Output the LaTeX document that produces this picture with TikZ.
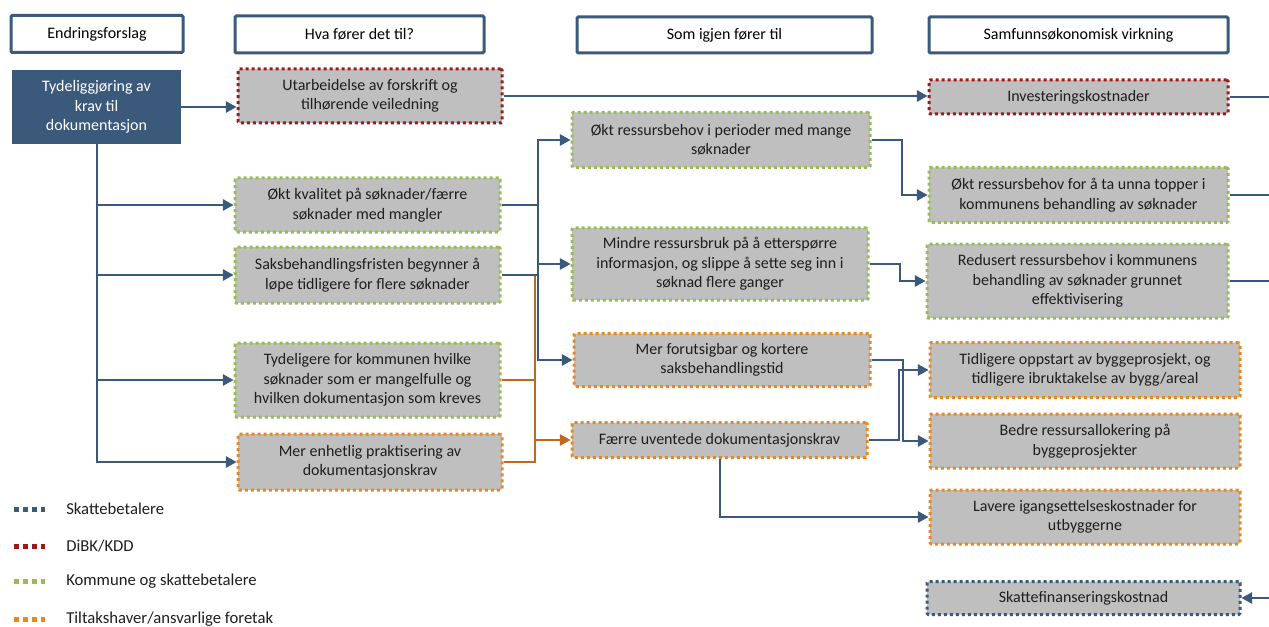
\documentclass[tikz,border=0pt]{standalone}
\usepackage{fontspec}
\setmainfont{Carlito}
\usetikzlibrary{arrows.meta}
\definecolor{navy}{HTML}{3B5A7B}
\definecolor{dibk}{HTML}{9E1A1A}
\definecolor{kommune}{HTML}{9BBB59}
\definecolor{tiltak}{HTML}{E68A1E}
\definecolor{brownlink}{HTML}{BF6A1A}
\definecolor{boxgrey}{HTML}{BFBFBF}
\definecolor{txt}{HTML}{1E1E1E}

\begin{document}
\begin{tikzpicture}[x=0.75pt,y=-0.75pt,font=\fontsize{12}{14.6}\selectfont,
	>={Triangle[length=8pt,width=8.5pt]},
	head/.style={draw=navy,line width=2.25pt,fill=white,rounded corners=1pt,font=\fontsize{12}{14}\selectfont},
	box/.style={fill=boxgrey,line width=2.25pt,dash pattern=on 2.25pt off 2.25pt,rounded corners=1pt,align=center,text=txt,inner sep=2pt},
	link/.style={draw=navy,line width=1.5pt},
	olink/.style={draw=brownlink,line width=1.5pt},
	legendline/.style={line width=3.75pt,dash pattern=on 3.75pt off 3pt},
	legendtext/.style={anchor=west,font=\fontsize{12.5}{14}\selectfont,text=txt,inner sep=0}]
	\useasboundingbox (0,0) rectangle (1269,627);
	\node[head,minimum width=129pt,minimum height=27.75pt] (h1) at (97,34) {Endringsforslag};
	\node[head,minimum width=186.75pt,minimum height=27.75pt] (h2) at (359.5,34.5) {Hva fører det til?};
	\node[head,minimum width=221.25pt,minimum height=27pt] (h3) at (724.5,35) {Som igjen fører til};
	\node[head,minimum width=224.25pt,minimum height=27pt] (h4) at (1078.5,35) {Samfunnsøkonomisk virkning};
	\node[fill=navy,text=white,align=center,minimum width=126.75pt,minimum height=55.5pt] (1) at (96.5,107) {Tydeliggjøring av\\krav til\\dokumentasjon};
	\node[box,draw=dibk,minimum width=198pt,minimum height=40.5pt] (2) at (370,96) {Utarbeidelse av forskrift og\\tilhørende veiledning};
	\node[box,draw=kommune,minimum width=198.75pt,minimum height=40.5pt] (3) at (367.5,205) {Økt kvalitet på søknader/færre\\søknader med mangler};
	\node[box,draw=kommune,minimum width=198.75pt,minimum height=42pt] (4) at (367.5,275) {Saksbehandlingsfristen begynner å\\løpe tidligere for flere søknader};
	\node[box,draw=kommune,minimum width=198.75pt,minimum height=55.5pt] (5) at (367.5,380) {Tydeligere for kommunen hvilke\\søknader som er mangelfulle og\\hvilken dokumentasjon som kreves};
	\node[box,draw=tiltak,minimum width=198pt,minimum height=42pt] (6) at (370,462) {Mer enhetlig praktisering av\\dokumentasjonskrav};
	\node[box,draw=kommune,minimum width=223.5pt,minimum height=41.25pt] (7) at (721,140) {Økt ressursbehov i perioder med mange\\søknader};
	\node[box,draw=kommune,minimum width=222pt,minimum height=54pt] (8) at (720,264) {Mindre ressursbruk på å etterspørre\\informasjon, og slippe å sette seg inn i\\søknad flere ganger};
	\node[box,draw=tiltak,minimum width=222pt,minimum height=39.75pt] (9) at (722,360) {Mer forutsigbar og kortere\\saksbehandlingstid};
	\node[box,draw=tiltak,minimum width=221.25pt,minimum height=26.25pt] (10) at (719.5,440) {Færre uventede dokumentasjonskrav};
	\node[box,draw=dibk,minimum width=224.25pt,minimum height=25.5pt] (11) at (1078.5,97) {Investeringskostnader};
	\node[box,draw=kommune,minimum width=224.25pt,minimum height=41.25pt] (12) at (1078.5,195) {Økt ressursbehov for å ta unna topper i\\kommunens behandling av søknader};
	\node[box,draw=kommune,minimum width=225.75pt,minimum height=55.5pt] (13) at (1077.5,281) {Redusert ressursbehov i kommunens\\behandling av søknader grunnet\\effektivisering};
	\node[box,draw=tiltak,minimum width=232.5pt,minimum height=41.25pt] (14) at (1085,370) {Tidligere oppstart av byggeprosjekt, og\\tidligere ibruktakelse av bygg/areal};
	\node[box,draw=tiltak,minimum width=232.5pt,minimum height=40.5pt] (15) at (1085,441) {Bedre ressursallokering på\\byggeprosjekter};
	\node[box,draw=tiltak,minimum width=232.5pt,minimum height=40.5pt] (16) at (1085,517) {Lavere igangsettelseskostnader for\\utbyggerne};
	\node[box,draw=navy,minimum width=234.75pt,minimum height=24.75pt] (17) at (1083.5,598) {Skattefinanseringskostnad};
	\coordinate (r) at (1269,0);
	\coordinate (b1) at (538,0);
	\coordinate (b2) at (535,0);
	\draw[link,->] (1.south) |- (6.west);
	\draw[link,->] (1.south |- 3.west) -- (3.west);
	\draw[link,->] (1.south |- 4.west) -- (4.west);
	\draw[link,->] (1.south |- 5.west) -- (5.west);
	\draw[link,->] (1.east) -- (1.east -| 2.west);
	\draw[link,->] (2.east) -- (2.east -| 11.west);
	\draw[olink,->] (4.east -| b2) |- (10.west);
	\draw[olink] (5.east) -- (5.east -| b2);
	\draw[olink] (6.east) -| (b2 |- 10.west);
	\draw[link,->] (3.east) -- (3.east -| b1) |- (7.west);
	\draw[link,->] (4.east) -- (4.east -| b1) |- (9.west);
	\draw[link] (3.east -| b1) -- (4.east -| b1);
	\draw[link,->] (b1 |- 8.west) -- (8.west);
	\draw[link,->] (7.east) -- ++(30,0) |- (12.west);
	\draw[link,->] (8.east) -- ++(30,0) |- (13.west);
	\draw[link,->] (9.east) -- ++(31,0) |- (15.west);
	\draw[link,->] (10.east) -- ++(30,0) |- (14.west);
	\draw[link,->] (10.south) |- (16.west);
	\draw[link] (11.east) -- (11.east -| r);
	\draw[link] (12.east) -- (12.east -| r);
	\draw[link] (13.east) -- (13.east -| r);
	\draw[link,->] (17.east -| r) -- (17.east);
	\draw[legendline,navy] (14,509) -- (45,509);
	\draw[legendline,dibk] (14,546) -- (45,546);
	\draw[legendline,kommune] (14,581) -- (45,581);
	\draw[legendline,tiltak] (14,619) -- (45,619);
	\node[legendtext] (l1) at (66,509) {Skattebetalere};
	\node[legendtext] (l2) at (66,546) {DiBK/KDD};
	\node[legendtext] (l3) at (66,581) {Kommune og skattebetalere};
	\node[legendtext] (l4) at (66,619) {Tiltakshaver/ansvarlige foretak};
\end{tikzpicture}
\end{document}
